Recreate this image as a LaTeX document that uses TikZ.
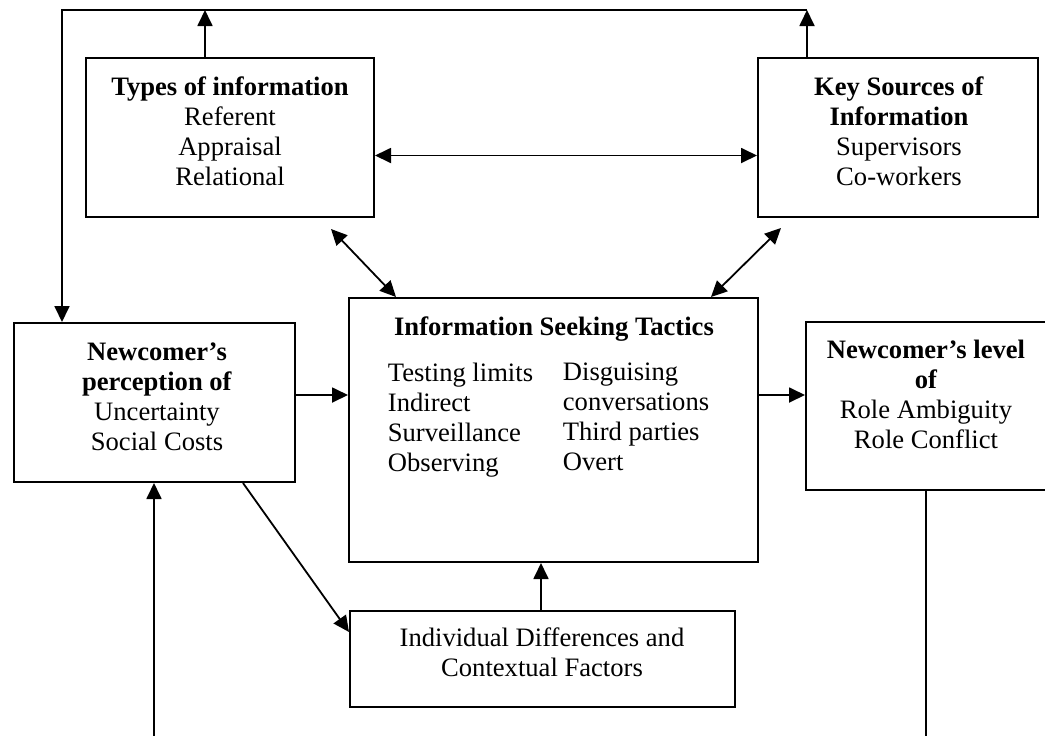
\documentclass[tikz,border=0pt]{standalone}
\usepackage{fontspec}
\setmainfont{Liberation Serif}
\usepackage{tikz}
\usetikzlibrary{fit, arrows.meta}

\begin{document}
\begin{tikzpicture}[
    x=0.5pt, y=-0.5pt,
    box/.style={draw, line width=1pt, inner sep=0pt},
    txt/.style={align=center, inner sep=0pt, font=\fontsize{13.3pt}{15pt}\selectfont},
    col/.style={align=left, inner sep=0pt, anchor=north west, font=\fontsize{13.3pt}{15pt}\selectfont},
    every path/.style={line width=0.9pt},
    arr/.style={-{Triangle[length=8pt, width=7.5pt]}},
    dbl/.style={{Triangle[length=8pt, width=7.5pt]}-{Triangle[length=8pt, width=7.5pt]}}
]
\useasboundingbox (0,0) rectangle (1045,735);

% Boxes
\node[box, fit={(86,58) (374,217)}] (types) {};
\node[box, fit={(758,58) (1038,217)}] (key) {};
\node[box, fit={(14,323) (295,482)}] (perc) {};
\node[box, fit={(349,298) (758,562)}] (tactics) {};
\node[box, fit={(806,322) (1052,490)}] (level) {};
\node[box, fit={(350,611) (735,707)}] (indiv) {};

% Texts
\node[txt, anchor=north] (typestxt) at (230,76) {\textbf{Types of information}\\Referent\\Appraisal\\Relational};
\node[txt, anchor=north] (keytxt) at (899,76) {\textbf{Key Sources of}\\\textbf{Information}\\Supervisors\\Co-workers};
\node[txt, anchor=north] (perctxt) at (157,342) {\textbf{Newcomer’s}\\\textbf{perception of}\\Uncertainty\\Social Costs};
\node[txt, anchor=north] (tacticstxt) at (554,316) {\textbf{Information Seeking Tactics}};
\node[col] (tacticsA) at (387,362) {Testing limits\\Indirect\\Surveillance\\Observing};
\node[col] (tacticsB) at (562,362) {Disguising\\conversations\\Third parties\\Overt};
\node[txt, anchor=north] (leveltxt) at (926,339) {\textbf{Newcomer’s level}\\\textbf{of}\\Role Ambiguity\\Role Conflict};
\node[txt, anchor=north] (indivtxt) at (542,627) {Individual Differences and\\Contextual Factors};

% Helper points
\coordinate (topL) at (62,10);
\coordinate (topT) at (205,10);
\coordinate (topR) at (807,10);
\coordinate (rowY) at (0,395);
\coordinate (botL) at (154,740);
\coordinate (botR) at (926,740);

% Feedback loop on top
\draw[arr] (types.north -| topT) -- (topT);
\draw[arr] (key.north -| topR) -- (topR);
\draw[arr] (topR) -- (topL) -- (perc.north -| topL);

% Double arrows
\draw[dbl] ([yshift=-9pt]types.east) -- ([yshift=-9pt]key.west);
\draw[dbl] ([shift={(-44,11)}]types.south east) -- ([shift={(48,0)}]tactics.north west);
\draw[dbl] ([shift={(24,10)}]key.south west) -- ([shift={(-48,0)}]tactics.north east);

% Main flow
\draw[arr] (perc.east |- rowY) -- (tactics.west |- rowY);
\draw[arr] (tactics.east |- rowY) -- (level.west |- rowY);
\draw[arr] (indiv.north -| 541,0) -- (tactics.south -| 541,0);
\draw[arr] ([shift={(-53,0)}]perc.south east) -- ([shift={(0,22)}]indiv.north west);
\draw[arr] (botL) -- (perc.south -| botL);
\draw (level.south -| botR) -- (botR);
\end{tikzpicture}
\end{document}
